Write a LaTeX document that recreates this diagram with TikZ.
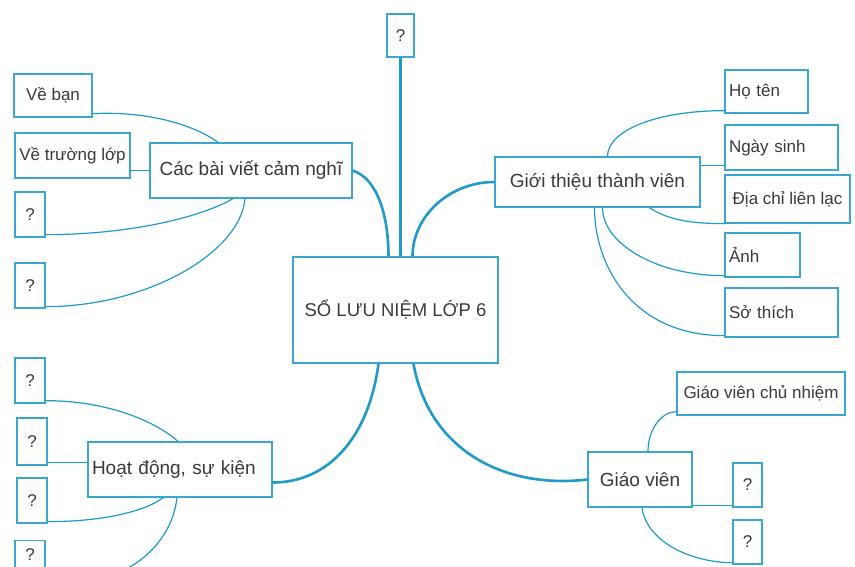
\documentclass[tikz,border=0pt]{standalone}
\usepackage{fontspec}
\setmainfont{Liberation Sans}
\usetikzlibrary{positioning}
\definecolor{mapblue}{HTML}{3AA8CE}
\definecolor{linkblue}{HTML}{1E9BC8}
\definecolor{textgray}{HTML}{3A3A3A}
\tikzset{%
  mapbox/.style={draw=mapblue,line width=1.3pt,fill=white,text=textgray,inner xsep=4pt,inner ysep=2pt},
  leaf/.style={mapbox,font=\fontsize{17}{20}\selectfont,align=center},
  leftleaf/.style={mapbox,font=\fontsize{17}{20}\selectfont,align=left,text width=#1},
  topic/.style={mapbox,font=\fontsize{19}{22}\selectfont,align=center},
  branch/.style={linkblue,line width=2.6pt},
  twig/.style={linkblue,line width=1.2pt}%
}

\begin{document}
\begin{tikzpicture}[x=1pt,y=-1pt]
\useasboundingbox (0,0) rectangle (855,566);
\fill[white] (0,0) rectangle (855,566);
\clip (0,0) rectangle (855,566);

% Root and the question box above it
\node[topic,minimum width=205pt,minimum height=106pt,font=\fontsize{18.5}{22}\selectfont] (root) at (395.5,310) {SỔ LƯU NIỆM LỚP 6};
\node[leaf,minimum width=27pt,minimum height=43pt] (topq) at (400.5,35.5) {?};

% Upper left: writings
\node[topic,minimum width=202pt,minimum height=55pt] (cac) at (251,170.5) {Các bài viết cảm nghĩ};
\node[leaf,minimum width=78pt,minimum height=43pt] (veban) at (53,95.5) {Về bạn};
\node[leaf,minimum width=115pt,minimum height=45pt] (vetruong) at (72.5,155.5) {Về trường lớp};
\node[leaf,minimum width=30pt,minimum height=45pt] (lq1) at (30,214.5) {?};
\node[leaf,minimum width=30pt,minimum height=45pt] (lq2) at (30,285.5) {?};

% Upper right: members
\node[topic,minimum width=205pt,minimum height=50pt] (gioi) at (597.5,182) {Giới thiệu thành viên};
\node[leftleaf=75pt,minimum height=43pt] (hoten) at (766.5,91.5) {Họ tên};
\node[leftleaf=105pt,minimum height=45pt] (ngaysinh) at (781.5,147.5) {Ngày sinh};
\node[leaf,minimum width=125pt,minimum height=48pt] (diachi) at (787.5,199) {Địa chỉ liên lạc};
\node[leftleaf=67pt,minimum height=44pt] (anh) at (762.5,255) {Ảnh};
\node[leftleaf=105pt,minimum height=49pt] (sothich) at (781.5,312.5) {Sở thích};

% Lower left: events (last box runs off the page)
\node[topic,align=left,text width=176pt,inner xsep=4pt,minimum height=55pt] (hoat) at (180,469.5) {Hoạt động, sự kiện};
\node[leaf,minimum width=30pt,minimum height=45pt] (bq1) at (30,380.5) {?};
\node[leaf,minimum width=30pt,minimum height=47pt] (bq2) at (32,441.5) {?};
\node[leaf,minimum width=30pt,minimum height=45pt] (bq3) at (32,500.5) {?};
\node[leaf,minimum width=30pt,minimum height=28pt,inner ysep=1pt] (bq4) at (30,554.5) {?};

% Lower right: teachers
\node[topic,minimum width=104pt,minimum height=55pt] (giaovien) at (640,479.5) {Giáo viên};
\node[leaf,minimum width=168pt,minimum height=43pt] (gvcn) at (761,393.5) {Giáo viên chủ nhiệm};
\node[leaf,minimum width=29pt,minimum height=44pt] (gq1) at (747.5,485) {?};
\node[leaf,minimum width=29pt,minimum height=44pt] (gq2) at (747.5,542) {?};

% Main branches
\draw[branch] (topq.south) -- (topq.south |- root.north);
\draw[branch] (cac.east) .. controls +(25,8) and +(0,-40) .. ([xshift=-7pt]root.north);
\draw[branch] (gioi.west) .. controls +(-45,0) and +(0,-40) .. ([xshift=17pt]root.north);
\draw[branch] ([yshift=-13pt]hoat.east) .. controls +(55,0) and +(-10,75) .. ([xshift=-17pt]root.south);
\draw[branch] (giaovien.west) .. controls +(-85,10) and +(15,85) .. ([xshift=18pt]root.south);

% Twigs, upper left
\draw[twig] ([yshift=4pt]veban.south east) .. controls +(60,-3) and +(-20,-15) .. ([xshift=-33pt]cac.north);
\draw[twig] (cac.west) -- (cac.west -| vetruong.east);
\draw[twig] ([yshift=3pt]lq1.south east) .. controls +(80,0) and +(-35,20) .. ([xshift=-18pt]cac.south);
\draw[twig] ([yshift=2pt]lq2.south east) .. controls +(100,0) and +(-5,55) .. ([xshift=-6pt]cac.south);

% Twigs, upper right
\draw[twig] ([yshift=3pt]hoten.south west) .. controls +(-70,0) and +(0,-25) .. ([xshift=10pt]gioi.north);
\draw[twig] ([yshift=-18pt]ngaysinh.west) -- ([yshift=-18pt]ngaysinh.west -| gioi.east);
\draw[twig] (diachi.south west) .. controls +(-40,0) and +(15,10) .. ([xshift=52pt]gioi.south);
\draw[twig] ([yshift=2pt]anh.south west) .. controls +(-70,0) and +(0,35) .. ([xshift=5pt]gioi.south);
\draw[twig] ([yshift=2pt]sothich.south west) .. controls +(-90,0) and +(0,60) .. ([xshift=-3pt]gioi.south);

% Twigs, lower left
\draw[twig] ([yshift=3pt]bq1.south east) .. controls +(65,0) and +(-20,-18) .. ([xshift=-2pt]hoat.north);
\draw[twig] ([yshift=7pt]hoat.west) -- ([yshift=7pt]hoat.west -| bq2.east);
\draw[twig] ([yshift=2pt]bq3.south east) .. controls +(60,0) and +(-15,12) .. ([xshift=-17pt]hoat.south);
\draw[twig] ([yshift=-18pt]bq4.south east) .. controls +(85,0) and +(-5,45) .. ([xshift=-3pt]hoat.south);

% Twigs, lower right
\draw[twig] ([yshift=4pt]gvcn.south west) .. controls +(-15,0) and +(0,-22) .. ([xshift=8pt]giaovien.north);
\draw[twig] ([yshift=2pt]giaovien.south east) -- ([yshift=2pt]giaovien.south east -| gq1.west);
\draw[twig] ([xshift=2pt]giaovien.south) .. controls +(5,35) and +(-40,0) .. ([yshift=2pt]gq2.south west);
\end{tikzpicture}
\end{document}
